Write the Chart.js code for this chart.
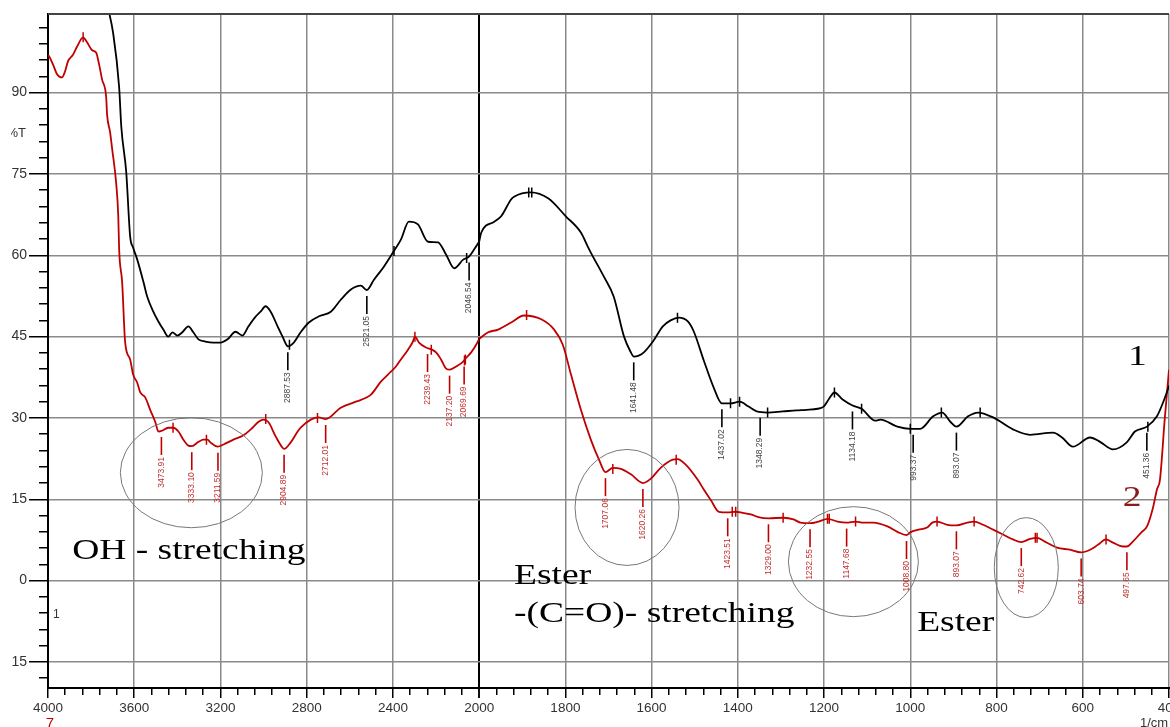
<!DOCTYPE html>
<html>
<head>
<meta charset="utf-8">
<script src="https://cdn.jsdelivr.net/npm/chart.js@4.4.1/dist/chart.umd.min.js"></script>
<style>
  html, body { margin: 0; padding: 0; background: #fff; overflow: hidden; }
  #crop { position: absolute; left: 11px; top: 0; width: 1159px; height: 727px; overflow: hidden; background: #fff; }
  #box { position: absolute; left: -11px; top: 0; width: 1190px; height: 727px; }
</style>
</head>
<body>
<div id="crop"><div id="box"><canvas id="ir"></canvas></div></div>
<script>
// spectrum 1 (black): wavenumber (1/cm) and %T
const wn1 = [3730, 3698, 3670, 3660, 3637, 3619, 3605, 3586, 3558, 3540, 3516, 3488, 3465, 3442, 3423, 3400, 3377, 3349, 3326, 3302,
  3270, 3233, 3200, 3167, 3130, 3098, 3070, 3037, 3014, 2991, 2967, 2935, 2912, 2887, 2860, 2828, 2790, 2740, 2688, 2642,
  2595, 2549, 2521, 2488, 2442, 2400, 2363, 2326, 2284, 2237, 2191, 2153, 2116, 2074, 2046, 2023, 2000, 1995, 1965, 1949,
  1926, 1919, 1880, 1840, 1799, 1764, 1748, 1741, 1711, 1688, 1664, 1650, 1641, 1630, 1618, 1597, 1574, 1556, 1537, 1516,
  1502, 1479, 1456, 1437, 1417, 1396, 1375, 1356, 1331, 1296, 1264, 1241, 1215, 1201, 1188, 1176, 1157, 1134, 1113, 1081,
  1069, 1030, 1000, 977, 947, 926, 907, 893, 866, 843, 808, 762, 722, 669, 648, 623, 583, 560, 530, 498,
  479, 451, 428, 414, 403, 400];
const t1 = [107, 101, 91, 83.7, 75.3, 63.5, 61.4, 59.2, 55.2, 52.4, 50.0, 47.8, 46.3, 45.0, 45.8, 45.2, 45.8, 46.9, 45.8, 44.5,
  44.1, 43.9, 43.9, 44.5, 45.9, 45.2, 46.9, 48.7, 49.6, 50.6, 49.6, 46.9, 45.0, 43.2, 43.9, 45.8, 47.6, 48.8, 49.6, 51.8,
  53.7, 54.4, 53.6, 55.5, 57.9, 60.5, 62.9, 66.2, 65.7, 62.5, 62.4, 60.1, 57.6, 59.2, 59.8, 61.1, 62.5, 64.2, 66.2, 67.2,
  70.3, 70.8, 71.6, 70.5, 67.2, 64.2, 61.6, 60.5, 56.1, 52.4, 45.0, 42.4, 41.3, 41.5, 42.1, 44.1, 46.9, 48.0, 48.5, 47.8,
  45.9, 40.6, 35.6, 32.7, 32.7, 33.0, 32.1, 31.2, 31.0, 31.2, 31.4, 31.5, 31.7, 32.1, 33.6, 34.7, 33.4, 32.3, 31.7, 29.5,
  29.7, 28.4, 28.0, 28.0, 30.3, 31.0, 29.3, 28.4, 30.3, 31.0, 30.1, 27.9, 26.9, 27.3, 26.4, 24.7, 26.4, 25.6, 24.2, 25.5,
  27.5, 28.4, 30.3, 32.8, 35.2, 36.0];

// spectrum 2 (red)
const wn2 = [4000, 3995, 3977, 3958, 3935, 3921, 3907, 3884, 3865, 3837, 3819, 3795, 3777, 3763, 3749, 3730, 3726, 3712, 3702, 3684,
  3674, 3670, 3656, 3642, 3619, 3605, 3586, 3572, 3549, 3526, 3502, 3488, 3474, 3442, 3419, 3395, 3372, 3349, 3333, 3302,
  3279, 3260, 3247, 3212, 3186, 3140, 3093, 3051, 3023, 3000, 2977, 2944, 2912, 2905, 2874, 2842, 2828, 2781, 2744, 2712,
  2642, 2572, 2502, 2456, 2423, 2386, 2363, 2330, 2307, 2298, 2279, 2247, 2219, 2200, 2177, 2153, 2137, 2107, 2074, 2060,
  2037, 2014, 2000, 1979, 1956, 1926, 1896, 1856, 1826, 1806, 1787, 1764, 1741, 1722, 1707, 1690, 1671, 1648, 1620, 1602,
  1579, 1551, 1540, 1521, 1493, 1479, 1463, 1444, 1424, 1405, 1389, 1370, 1347, 1329, 1294, 1271, 1255, 1232, 1213, 1192,
  1169, 1148, 1127, 1109, 1086, 1053, 1030, 1009, 1000, 981, 961, 949, 938, 914, 893, 868, 852, 831, 808, 785,
  762, 743, 722, 706, 688, 660, 630, 604, 583, 565, 546, 530, 507, 498, 484, 463, 451, 437, 428, 421,
  410, 400];
const t2 = [96.9, 96.7, 95.2, 93.4, 92.8, 93.9, 95.8, 97.0, 98.5, 100.2, 99.3, 97.8, 97.4, 95.2, 92.4, 89.1, 86.0, 82.7, 79.5, 73.4,
  67.2, 61.1, 55.0, 43.9, 40.8, 38.0, 36.5, 34.7, 33.8, 31.5, 29.2, 27.5, 27.6, 28.2, 28.2, 27.5, 26.0, 24.9, 24.8, 25.6,
  26.0, 26.0, 25.5, 24.7, 25.1, 26.0, 26.8, 28.2, 29.3, 29.7, 29.2, 26.6, 24.5, 24.3, 25.5, 27.5, 28.2, 29.7, 30.1, 29.8,
  31.9, 33.0, 34.3, 36.7, 38.0, 39.5, 40.8, 42.6, 44.1, 45.0, 43.9, 43.0, 42.6, 42.1, 40.8, 39.1, 38.9, 39.5, 40.4, 41.1,
  42.1, 43.5, 44.6, 45.8, 46.3, 47.6, 48.9, 48.2, 46.3, 43.5, 38.0, 31.5, 26.0, 22.3, 20.0, 20.8, 20.6, 19.6, 18.0, 18.8,
  20.8, 22.3, 22.4, 21.4, 18.6, 16.8, 14.9, 12.7, 12.6, 12.7, 12.5, 12.2, 11.6, 11.5, 11.6, 11.3, 10.7, 10.6, 10.9, 11.4,
  10.9, 10.7, 10.9, 10.7, 10.7, 10.0, 9.0, 8.4, 8.9, 9.4, 9.8, 10.7, 10.9, 10.3, 10.2, 10.7, 10.9, 10.3, 9.4, 8.5,
  7.6, 7.1, 7.7, 7.9, 7.2, 6.1, 5.7, 5.2, 5.7, 6.6, 7.6, 7.0, 6.3, 6.3, 7.2, 9.0, 10.0, 13.5, 16.8, 18.6,
  29.7, 38.9];

// picked peaks (minima) written under the curves
const peaks1 = [2887.53, 2521.05, 2046.54, 1641.48, 1437.02, 1348.29, 1134.18, 993.37, 893.07, 451.36];
const peaks2 = [3473.91, 3333.10, 3211.59, 2904.89, 2712.01, 2239.43, 2137.20, 2069.69, 1707.06, 1620.26,
  1423.51, 1329.00, 1232.55, 1147.68, 1008.80, 893.07, 742.62, 603.74, 497.65];

// small tick marks on the maxima
const maxWn1 = [2880, 2395, 2058, 1885, 1878, 1540, 1417, 1396, 1331, 1176, 1113, 1000, 928, 838, 449];
const maxT1 = [43.5, 60.8, 59.5, 71.6, 71.6, 48.5, 32.7, 33.0, 31.0, 34.7, 31.7, 28.0, 31.0, 31.0, 28.4];
const maxWn2 = [3837, 3420, 3265, 2990, 2750, 2298, 2222, 2068, 2064, 1890, 1690, 1543, 1413, 1405, 1295, 1192, 1188, 1127, 938, 852, 710, 706, 546];
const maxT2 = [100.2, 28.2, 26.0, 29.8, 30.0, 45.0, 42.6, 40.6, 40.8, 49.0, 20.6, 22.3, 12.7, 12.7, 11.6, 11.4, 11.4, 10.9, 10.9, 10.9, 7.9, 7.9, 7.6];

// axis ticks
const xLabelsLeft = [4000, 3600, 3200, 2800, 2400, 2000];
const xLabelsRight = [1800, 1600, 1400, 1200, 1000, 800, 600, 400];
const yLabels = [-15, 0, 15, 30, 45, 60, 75, 90];

function pts(wn, t, lo, hi) {
  const out = [];
  wn.forEach((w, i) => { if (w >= lo && w <= hi) out.push({x: w, y: t[i]}); });
  return out;
}

function valueAt(wn, t, w) {
  for (let i = 0; i < wn.length - 1; i++) {
    if (wn[i] >= w && wn[i + 1] <= w) {
      const f = (wn[i] - w) / (wn[i] - wn[i + 1]);
      return t[i] + f * (t[i + 1] - t[i]);
    }
  }
  return t[t.length - 1];
}

function stepTicks(lo, hi, step, desc) {
  const v = [];
  for (let x = lo; x <= hi + 1e-9; x += step) v.push({value: Math.round(x * 100) / 100});
  return desc ? v.reverse() : v;
}

const line = (color, axis, data) => ({
  data, xAxisID: axis, yAxisID: 'y', borderColor: color, borderWidth: 1.8,
  pointRadius: 0, cubicInterpolationMode: 'monotone', fill: false
});
const marks = (color, axis, data) => ({
  data, xAxisID: axis, yAxisID: 'y', showLine: false, pointStyle: 'line', pointRotation: 90,
  pointRadius: 5, pointBorderColor: color, pointBorderWidth: 1.5, borderColor: color
});

const gridGray = '#8a8a8a';

const xAxis = (min, max, minor, labels) => ({
  type: 'linear', position: 'bottom', stack: 'wn', reverse: true, min, max,
  stackWeight: (max - min) * (min < 2000 ? 2 : 1),
  afterBuildTicks: s => { s.ticks = stepTicks(min, max, minor, true); },
  afterFit: s => { s.height = 39; },
  ticks: {
    autoSkip: false, maxRotation: 0, padding: 2, color: '#333',
    font: {size: 13.5},
    callback: v => labels.includes(v) ? String(v) : ''
  },
  grid: {
    lineWidth: c => c.tick && c.tick.value === 2000 ? 2 : 1.5,
    color: c => !c.tick ? 'rgba(0,0,0,0)' :
      c.tick.value === 2000 ? '#000' :
      (c.tick.value % 200 === 0 && (c.tick.value <= 2000 || c.tick.value % 400 === 0)) ? gridGray : 'rgba(0,0,0,0)',
    tickColor: '#000', tickWidth: 1.5, tickLength: 10,
    tickBorderDash: c => c.tick && (c.tick.value % 200 === 0 && (c.tick.value <= 2000 || c.tick.value % 400 === 0)) ? [] : [6, 100]
  },
  border: {color: '#000', width: 2}
});

const deco = {
  id: 'deco',
  afterDatasetsDraw(chart) {
    const {ctx, chartArea: a, scales} = chart;
    const y = scales.y;
    const px = w => (w >= 2000 ? scales.x1 : scales.x2).getPixelForValue(w);
    ctx.save();

    // top frame
    ctx.strokeStyle = '#444';
    ctx.lineWidth = 2;
    ctx.beginPath(); ctx.moveTo(a.left, a.top); ctx.lineTo(a.right, a.top); ctx.stroke();

    // peak labels
    const peakLabels = (list, wn, t, lineCol, textCol) => {
      list.forEach(p => {
        const x = px(p);
        const top = y.getPixelForValue(valueAt(wn, t, p)) + 6;
        ctx.strokeStyle = lineCol;
        ctx.lineWidth = 1.6;
        ctx.beginPath(); ctx.moveTo(x, top); ctx.lineTo(x, top + 18); ctx.stroke();
        ctx.save();
        ctx.translate(x, top + 20);
        ctx.rotate(-Math.PI / 2);
        ctx.fillStyle = textCol;
        ctx.font = '8.5px "Liberation Sans", Arial, sans-serif';
        ctx.textAlign = 'right';
        ctx.textBaseline = 'middle';
        ctx.fillText(p.toFixed(2), 0, 0);
        ctx.restore();
      });
    };
    peakLabels(peaks1, wn1, t1, '#000', '#444');
    peakLabels(peaks2, wn2, t2, '#c00000', '#c03030');

    // ellipses round the assigned bands
    ctx.strokeStyle = '#777';
    ctx.lineWidth = 1;
    [[3335, 19.9, 71, 55], [1657, 13.5, 52, 58], [1132, 3.5, 65, 55], [731, 2.4, 32, 50]].forEach(([w, v, rx, ry]) => {
      ctx.beginPath();
      ctx.ellipse(px(w), y.getPixelForValue(v), rx, ry, 0, 0, Math.PI * 2);
      ctx.stroke();
    });

    // band names and curve numbers
    ctx.font = '30px "Liberation Serif", "Times New Roman", serif';
    ctx.textAlign = 'left';
    ctx.textBaseline = 'alphabetic';
    [['OH - stretching', 3888, 3.9, '#000'], ['Ester', 1919, -0.7, '#000'], ['-(C=O)- stretching', 1919, -7.7, '#000'],
     ['Ester', 984, -9.2, '#000'], ['1', 495, 39.7, '#000'], ['2', 507, 13.7, '#8b1a1a']].forEach(([s, w, v, c]) => {
      ctx.save();
      ctx.translate(px(w), y.getPixelForValue(v));
      ctx.scale(1.25, 1);
      ctx.fillStyle = c;
      ctx.fillText(s, 0, 0);
      ctx.restore();
    });

    // small axis captions
    ctx.font = '13px "Liberation Sans", Arial, sans-serif';
    ctx.fillStyle = '#333';
    ctx.textAlign = 'right';
    ctx.textBaseline = 'middle';
    ctx.fillText('%T', a.left - 22, y.getPixelForValue(82.5));
    ctx.textAlign = 'left';
    ctx.font = '12px "Liberation Sans", Arial, sans-serif';
    ctx.fillText('1', a.left + 5, y.getPixelForValue(-6.3));
    ctx.font = '13px "Liberation Sans", Arial, sans-serif';
    ctx.fillText('1/cm', a.right - 29, a.bottom + 35);
    ctx.fillStyle = '#c00000';
    ctx.textAlign = 'center';
    ctx.font = '15px "Liberation Sans", Arial, sans-serif';
    ctx.fillText('7', a.left + 2, a.bottom + 36);
    ctx.restore();
  }
};

Chart.defaults.font.family = '"Liberation Sans", Arial, sans-serif';

new Chart(document.getElementById('ir'), {
  type: 'line',
  data: {
    datasets: [
      line('#000', 'x1', pts(wn1, t1, 2000, 4000)),
      line('#000', 'x2', pts(wn1, t1, 400, 2000)),
      line('#c00000', 'x1', pts(wn2, t2, 2000, 4000)),
      line('#c00000', 'x2', pts(wn2, t2, 400, 2000)),
      marks('#000', 'x1', pts(maxWn1, maxT1, 2000, 4000)),
      marks('#000', 'x2', pts(maxWn1, maxT1, 400, 1999)),
      marks('#c00000', 'x1', pts(maxWn2, maxT2, 2000, 4000)),
      marks('#c00000', 'x2', pts(maxWn2, maxT2, 400, 1999))
    ]
  },
  options: {
    responsive: true,
    maintainAspectRatio: false,
    animation: false,
    events: [],
    layout: {padding: {top: 14, right: 21, left: 0, bottom: 0}},
    plugins: {legend: {display: false}, tooltip: {enabled: false}},
    scales: {
      x1: xAxis(2000, 4000, 80, xLabelsLeft),
      x2: xAxis(400, 2000, 40, xLabelsRight),
      y: {
        type: 'linear', position: 'left', min: -19.8, max: 104.5,
        afterBuildTicks: s => { s.ticks = stepTicks(-18, 102, 3, false); },
        afterFit: s => { s.width = 48; },
        ticks: {
          autoSkip: false, padding: 2, color: '#333', font: {size: 14},
          callback: v => yLabels.includes(v) ? String(v) : ''
        },
        grid: {
          lineWidth: 1.5,
          color: c => c.tick && c.tick.value % 15 === 0 ? gridGray : 'rgba(0,0,0,0)',
          tickColor: '#000', tickWidth: 1.5, tickLength: 19,
          tickBorderDash: c => c.tick && c.tick.value % 15 === 0 ? [] : [0, 10, 20]
        },
        border: {color: '#000', width: 2}
      }
    }
  },
  plugins: [deco]
});
</script>
</body>
</html>
